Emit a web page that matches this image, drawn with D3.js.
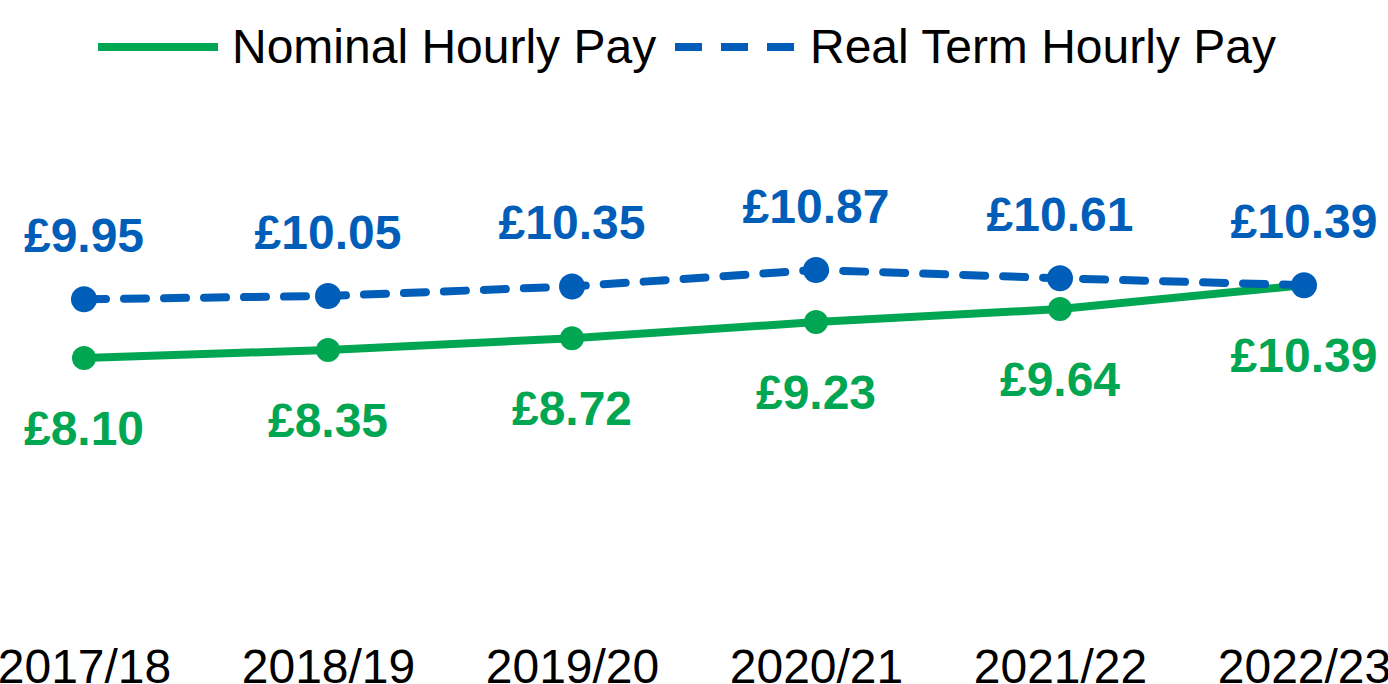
<!DOCTYPE html>
<html>
<head>
<meta charset="utf-8">
<script src="https://cdn.jsdelivr.net/npm/d3@7"></script>
<style>
  html, body { margin: 0; padding: 0; background: #fff; }
  svg { display: block; font-family: "Liberation Sans", Arial, sans-serif; }
</style>
</head>
<body>
<div id="chart"></div>
<script>
const years = ["2017/18", "2018/19", "2019/20", "2020/21", "2021/22", "2022/23"];
const nominal = [8.10, 8.35, 8.72, 9.23, 9.64, 10.39];
const realTerm = [9.95, 10.05, 10.35, 10.87, 10.61, 10.39];
const seriesNames = ["Nominal Hourly Pay", "Real Term Hourly Pay"];

const width = 1388, height = 684;
const green = "#00a651", blue = "#005eb8";

const svg = d3.select("#chart").append("svg")
  .attr("width", width)
  .attr("height", height);

const x = d3.scalePoint().domain(years).range([84, 1304]);
const y = d3.scaleLinear().domain([0, 20]).range([615.3, -20.1]);

// category axis, no line or ticks
const xAxis = svg.append("g")
  .attr("transform", "translate(0,648)")
  .call(d3.axisBottom(x).tickSize(0).tickPadding(0));
xAxis.select(".domain").remove();
xAxis.selectAll("text")
  .attr("dy", null)
  .attr("y", 35)
  .attr("font-size", 48)
  .attr("font-family", "'Liberation Sans', Arial, sans-serif")
  .attr("fill", "#000");

const line = d3.line()
  .x((d, i) => x(years[i]))
  .y(d => y(d));

// nominal
svg.append("path")
  .datum(nominal)
  .attr("d", line)
  .attr("fill", "none")
  .attr("stroke", green)
  .attr("stroke-width", 8)
  .attr("stroke-linejoin", "round");

svg.selectAll(".nomDot")
  .data(nominal)
  .enter().append("circle")
  .attr("cx", (d, i) => x(years[i]))
  .attr("cy", d => y(d))
  .attr("r", 12)
  .attr("fill", green);

// real term
svg.append("path")
  .datum(realTerm)
  .attr("d", line)
  .attr("fill", "none")
  .attr("stroke", blue)
  .attr("stroke-width", 8)
  .attr("stroke-dasharray", "22,18")
  .attr("stroke-linecap", "round");

svg.selectAll(".realDot")
  .data(realTerm)
  .enter().append("circle")
  .attr("cx", (d, i) => x(years[i]))
  .attr("cy", d => y(d))
  .attr("r", 13)
  .attr("fill", blue);

// value labels
svg.selectAll(".realLbl")
  .data(realTerm)
  .enter().append("text")
  .attr("x", (d, i) => x(years[i]))
  .attr("y", d => y(d) - 47)
  .attr("text-anchor", "middle")
  .attr("font-size", 48)
  .attr("font-weight", "bold")
  .attr("fill", blue)
  .text(d => "£" + d.toFixed(2));

svg.selectAll(".nomLbl")
  .data(nominal)
  .enter().append("text")
  .attr("x", (d, i) => x(years[i]))
  .attr("y", d => y(d) + 87)
  .attr("text-anchor", "middle")
  .attr("font-size", 48)
  .attr("font-weight", "bold")
  .attr("fill", green)
  .text(d => "£" + d.toFixed(2));

// legend
const legend = svg.append("g");
legend.append("line")
  .attr("x1", 98).attr("x2", 218).attr("y1", 47).attr("y2", 47)
  .attr("stroke", green).attr("stroke-width", 8);
legend.append("text")
  .attr("x", 232).attr("y", 63)
  .attr("font-size", 48).attr("fill", "#000")
  .text(seriesNames[0]);
legend.append("line")
  .attr("x1", 675).attr("x2", 795).attr("y1", 47).attr("y2", 47)
  .attr("stroke", blue).attr("stroke-width", 8)
  .attr("stroke-dasharray", "27,19");
legend.append("text")
  .attr("x", 810).attr("y", 63)
  .attr("font-size", 48).attr("fill", "#000")
  .text(seriesNames[1]);
</script>
</body>
</html>
